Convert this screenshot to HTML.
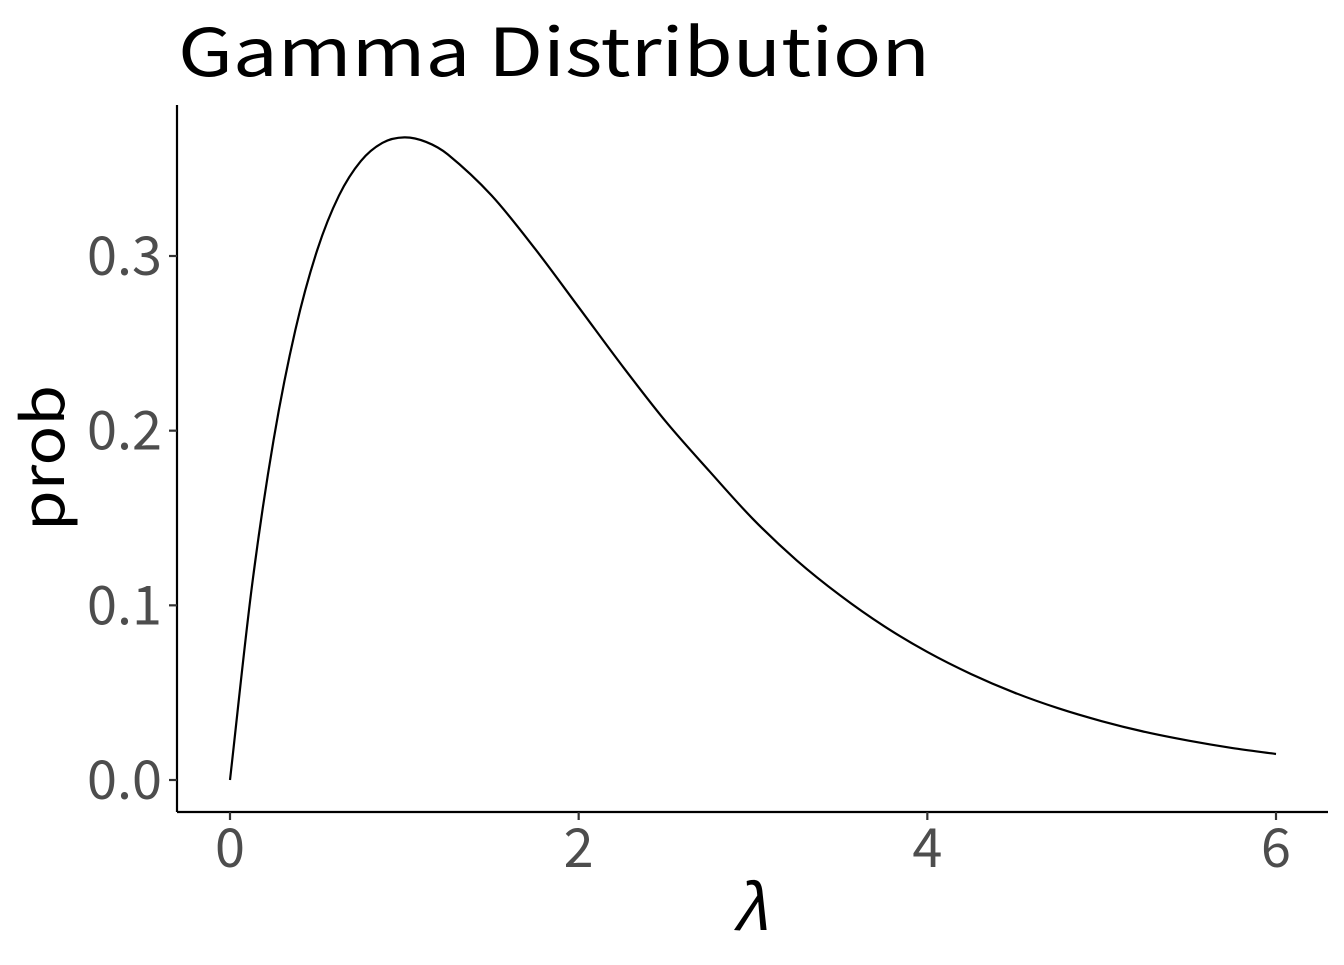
<!DOCTYPE html>
<html><head><meta charset="utf-8"><style>
body{margin:0;background:#fff}
svg text{font-family:"Noto Sans CJK JP","Liberation Sans",sans-serif}
</style></head><body>
<svg id="chart" width="1344" height="960" xmlns="http://www.w3.org/2000/svg">
<rect width="1344" height="960" fill="#fff"/>
<text x="178" y="76" font-size="66" fill="#000" textLength="752" lengthAdjust="spacingAndGlyphs">Gamma Distribution</text>
<line x1="177" y1="105" x2="177" y2="812" stroke="#000" stroke-width="2.2"/>
<line x1="177" y1="812" x2="1328" y2="812" stroke="#000" stroke-width="2.2"/>
<g id="xt"></g><g id="yt"></g>
<path id="curve" fill="none" stroke="#000" stroke-width="2.2"/>
<text x="750" y="930" font-size="62" font-style="italic" text-anchor="middle" fill="#000" font-family="Liberation Serif,serif">λ</text>
<text transform="translate(64,458) rotate(-90)" font-size="58" text-anchor="middle" fill="#000" textLength="146" lengthAdjust="spacingAndGlyphs">prob</text>
</svg>
<script>
const xs=[0,0.125,0.25,0.375,0.5,0.625,0.75,0.875,1,1.125,1.25,1.5,1.75,2,2.25,2.5,2.75,3,3.25,3.5,3.75,4,4.25,4.5,4.75,5,5.25,5.5,5.75,6];
const ys=[0,0.1103,0.1947,0.2577,0.3033,0.3346,0.3543,0.3648,0.3679,0.3653,0.3581,0.3347,0.3041,0.2707,0.2371,0.2052,0.1768,0.1494,0.1258,0.1057,0.0882,0.0733,0.0607,0.0500,0.0411,0.0337,0.0275,0.0225,0.0183,0.0149];
const xTicks=[0,2,4,6];
const xTickLabels=["0","2","4","6"];
const yTicks=[0,0.1,0.2,0.3];
const yTickLabels=["0.0","0.1","0.2","0.3"];
const X=v=>230+v*(1276-230)/6;
const Y=v=>780-v*(780-256)/0.3;
const NS="http://www.w3.org/2000/svg";
const xt=document.getElementById('xt'),yt=document.getElementById('yt');
xTicks.forEach((t,i)=>{
 const l=document.createElementNS(NS,'line');
 l.setAttribute('x1',X(t));l.setAttribute('x2',X(t));l.setAttribute('y1',812);l.setAttribute('y2',820);
 l.setAttribute('stroke','#333');l.setAttribute('stroke-width','2.2');
 
 
 xt.appendChild(l);
 const s=document.createElementNS(NS,'text');
 s.setAttribute('x',X(t));s.setAttribute('y',867);s.setAttribute('font-size','54');s.setAttribute('fill','#4d4d4d');s.setAttribute('text-anchor','middle');
 s.textContent=xTickLabels[i];
 
 
 xt.appendChild(s);
});
yTicks.forEach((t,i)=>{
 const l=document.createElementNS(NS,'line');
 l.setAttribute('x1',169);l.setAttribute('x2',177);l.setAttribute('y1',Y(t));l.setAttribute('y2',Y(t));
 l.setAttribute('stroke','#333');l.setAttribute('stroke-width','2.2');
 
 
 yt.appendChild(l);
 const s=document.createElementNS(NS,'text');
 s.setAttribute('x',162);s.setAttribute('y',Y(t)+19);s.setAttribute('font-size','54');s.setAttribute('fill','#4d4d4d');s.setAttribute('text-anchor','end');
 s.textContent=yTickLabels[i];
 
 
 yt.appendChild(s);
});
const P=xs.map((x,i)=>[X(x),Y(ys[i])]);
let d='M'+P[0][0]+','+P[0][1];
for(let i=0;i<P.length-1;i++){
 const p0=P[Math.max(i-1,0)],p1=P[i],p2=P[i+1],p3=P[Math.min(i+2,P.length-1)];
 const h=p2[0]-p1[0];
 const s1=(p2[1]-p0[1])/(p2[0]-p0[0]||1), s2=(p3[1]-p1[1])/(p3[0]-p1[0]||1);
 const c1=[p1[0]+h/3,p1[1]+s1*h/3];
 const c2=[p2[0]-h/3,p2[1]-s2*h/3];
 d+=` C${c1[0]},${c1[1]} ${c2[0]},${c2[1]} ${p2[0]},${p2[1]}`;
}
document.getElementById('curve').setAttribute('d',d);
</script>
</body></html>
